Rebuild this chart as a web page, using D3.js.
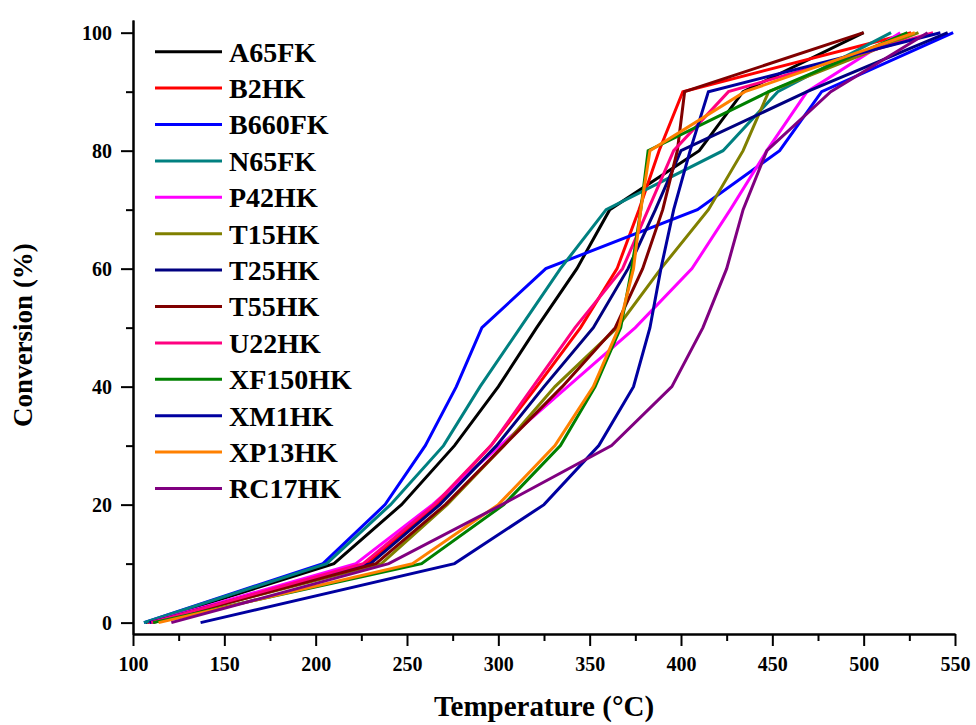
<!DOCTYPE html>
<html>
<head>
<meta charset="utf-8">
<script src="https://cdn.jsdelivr.net/npm/d3@7"></script>
<style>
  body { margin: 0; background: #fff; }
  svg text { font-family: "Liberation Serif", "Times New Roman", serif; font-weight: bold; fill: #000; }
</style>
</head>
<body>
<svg id="chart" width="976" height="725"></svg>
<script>
// conversion levels (%) at which the light-off temperature was read
const conversion = [0, 10, 20, 30, 40, 50, 60, 70, 80, 90, 100];

const seriesNames = ["A65FK", "B2HK", "B660FK", "N65FK", "P42HK", "T15HK", "T25HK",
                     "T55HK", "U22HK", "XF150HK", "XM1HK", "XP13HK", "RC17HK"];
const seriesColors = ["#000000", "#ff0000", "#0000ff", "#008080", "#ff00ff", "#808000", "#000080",
                      "#800000", "#ff0080", "#008000", "#0000a0", "#ff8000", "#800080"];

// temperature (°C) for each conversion level
const tA65FK   = [107, 210, 247, 276, 300, 321, 343, 361, 410, 434, 500];
const tB2HK    = [108, 228, 266, 296, 321, 345, 365, 377, 388, 401, 526];
const tB660FK  = [106, 204, 238, 260, 277, 291, 326, 409, 454, 477, 549];
const tN65FK   = [106, 206, 241, 270, 290, 312, 334, 359, 423, 453, 515];
const tP42HK   = [109, 222, 264, 301, 338, 375, 406, 427, 447, 469, 520];
const tT15HK   = [110, 236, 272, 303, 331, 365, 389, 415, 434, 448, 530];
const tT25HK   = [109, 230, 268, 299, 325, 352, 371, 386, 400, 469, 546];
const tT55HK   = [111, 233, 271, 303, 335, 364, 379, 390, 398, 402, 500];
const tU22HK   = [110, 226, 265, 296, 319, 342, 368, 382, 396, 426, 538];
const tXF150HK = [111, 258, 303, 334, 353, 367, 373, 378, 382, 448, 524];
const tXM1HK   = [137, 276, 325, 355, 374, 383, 389, 396, 405, 415, 542];
const tXP13HK  = [114, 253, 300, 331, 352, 366, 374, 378, 383, 435, 528];
const tRC17HK  = [121, 240, 302, 362, 395, 412, 425, 434, 447, 482, 535];

const seriesTemps = [tA65FK, tB2HK, tB660FK, tN65FK, tP42HK, tT15HK, tT25HK,
                     tT55HK, tU22HK, tXF150HK, tXM1HK, tXP13HK, tRC17HK];

const xMajor = [100, 150, 200, 250, 300, 350, 400, 450, 500, 550];
const xMinor = [125, 175, 225, 275, 325, 375, 425, 475, 525];
const yMajor = [0, 20, 40, 60, 80, 100];
const yMinor = [10, 30, 50, 70, 90];

const svg = d3.select("#chart");

const x = d3.scaleLinear().domain([100, 550]).range([133, 955]);
const y = d3.scaleLinear().domain([-1.93, 102.15]).range([634, 20]);

// axes: minor ticks first, then major ticks with labels
const styleAxis = g => {
    g.selectAll("path, line").attr("stroke", "#000").attr("stroke-width", 2);
};

svg.append("g")
    .attr("transform", "translate(0,634)")
    .call(d3.axisBottom(x).tickValues(xMinor).tickSize(7).tickSizeOuter(0).tickFormat(""))
    .call(styleAxis);
svg.append("g")
    .attr("transform", "translate(0,634)")
    .call(d3.axisBottom(x).tickValues(xMajor).tickSize(12).tickSizeOuter(0).tickPadding(11))
    .call(styleAxis)
    .call(g => g.selectAll("text").attr("font-size", 20).attr("font-family", null));

svg.append("g")
    .attr("transform", "translate(133,0)")
    .call(d3.axisLeft(y).tickValues(yMinor).tickSize(7).tickSizeOuter(0).tickFormat(""))
    .call(styleAxis);
svg.append("g")
    .attr("transform", "translate(133,0)")
    .call(d3.axisLeft(y).tickValues(yMajor).tickSize(12).tickSizeOuter(0).tickPadding(9))
    .call(styleAxis)
    .call(g => g.selectAll("text").attr("font-size", 20).attr("font-family", null));

// axis titles
svg.append("text")
    .attr("x", 544).attr("y", 716)
    .attr("text-anchor", "middle")
    .attr("font-size", 29)
    .text("Temperature (°C)");

svg.append("text")
    .attr("transform", "translate(32,335) rotate(-90)")
    .attr("text-anchor", "middle")
    .attr("font-size", 27)
    .text("Conversion (%)");

// lines
const line = d3.line()
    .x(d => x(d[0]))
    .y(d => y(d[1]));

const layer = svg.append("g");
seriesNames.forEach((name, i) => {
    const pts = seriesTemps[i].map((t, j) => [t, conversion[j]]);
    layer.append("path")
        .datum(pts)
        .attr("fill", "none")
        .attr("stroke", seriesColors[i])
        .attr("stroke-width", 3)
        .attr("stroke-linejoin", "miter")
        .attr("d", line);
});

// legend
const legend = svg.append("g");
seriesNames.forEach((name, i) => {
    const ly = 51.7 + i * 36.4;
    legend.append("line")
        .attr("x1", 155).attr("x2", 222)
        .attr("y1", ly).attr("y2", ly)
        .attr("stroke", seriesColors[i])
        .attr("stroke-width", 3);
    legend.append("text")
        .attr("x", 229).attr("y", ly)
        .attr("dy", "0.35em")
        .attr("font-size", 28)
        .text(name);
});
</script>
</body>
</html>
